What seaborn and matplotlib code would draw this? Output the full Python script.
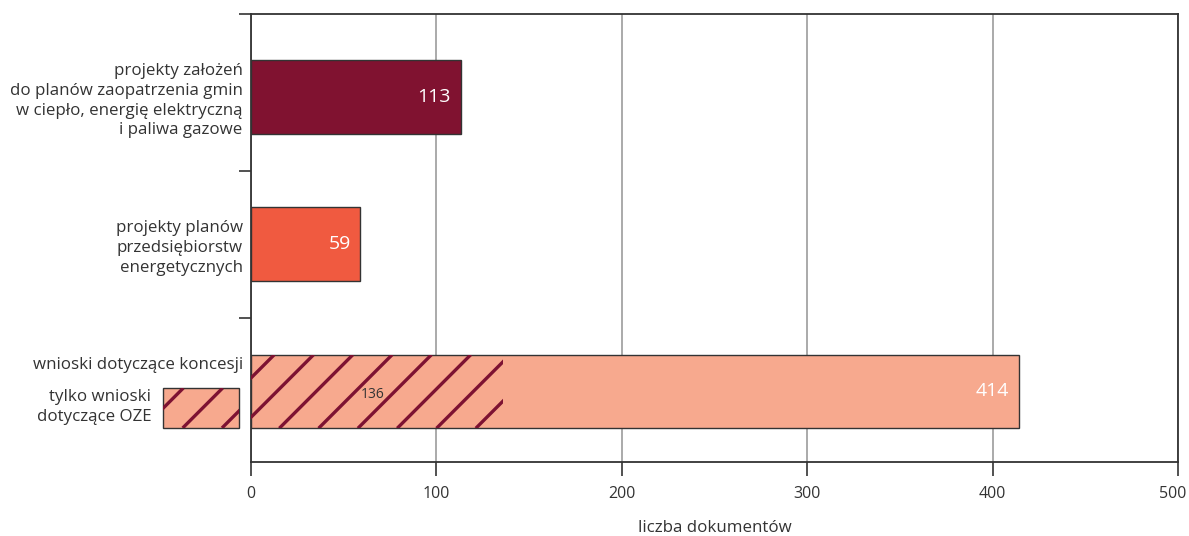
import numpy as np
import pandas as pd
import seaborn as sns
import matplotlib
matplotlib.use("Agg")
import matplotlib.pyplot as plt
from matplotlib.patches import Patch
from matplotlib.collections import LineCollection
from matplotlib.transforms import IdentityTransform, ScaledTranslation

# --- data -------------------------------------------------------------
categories = [
    "projekty założeń\ndo planów zaopatrzenia gmin\nw ciepło, energię elektryczną\ni paliwa gazowe",
    "projekty planów\nprzedsiębiorstw\nenergetycznych",
    "wnioski dotyczące koncesji",
]
counts = [113, 59, 414]
oze_count = 136
oze_label = "tylko wnioski\ndotyczące OZE"
x_ticks = [0, 100, 200, 300, 400, 500]
x_title = "liczba dokumentów"

# --- style ------------------------------------------------------------
bar_colors = ["#801230", "#f05a40", "#f7a98e"]
hatch_color = "#7d1232"
dark = "#333333"
grid_gray = "#9c9c9c"
FONT = ["Open Sans", "DejaVu Sans"]
FS = 12.2

sns.set_theme(style="white")
plt.rcParams["font.family"] = FONT
plt.rcParams["text.color"] = dark

DPI = 100
fig = plt.figure(figsize=(11.89, 5.36), dpi=DPI)
ax = fig.add_axes([251 / 1189, 1 - 462 / 536, (1178 - 251) / 1189, (462 - 14) / 536])

df = pd.DataFrame({"kategoria": categories, "liczba": counts})
sns.barplot(
    data=df, x="liczba", y="kategoria", hue="kategoria", palette=bar_colors,
    legend=False, width=0.5, orient="h", edgecolor=dark, linewidth=1.0,
    saturation=1, ax=ax, zorder=2,
)

# overlay marking the OZE subset of concession applications
oze_bar = ax.barh(2, oze_count, height=0.5, facecolor="none", edgecolor="none", zorder=3)[0]

ax.set_xlim(0, 500)
ax.set_ylim(2.479, -0.564)
ax.set_xticks(x_ticks)
ax.set_xticklabels([str(v) for v in x_ticks], fontsize=11.5, color=dark)

ax.set_yticks([0, 1, 2])
ax.set_yticklabels([categories[0], categories[1], ""], fontsize=FS, color=dark)
for t in ax.get_yticklabels():
    t.set_multialignment("right")
    t.set_linespacing(1.3)
ax.set_yticks([-0.564, 0.5, 1.5], minor=True)
ax.tick_params(axis="y", which="major", length=0, pad=6)
ax.tick_params(axis="y", which="minor", length=9, width=1.2, color=dark, direction="out", left=True)
ax.tick_params(axis="x", length=10, width=1.2, color=dark, direction="out", bottom=True, pad=7)
ax.set_xlabel(x_title, fontsize=FS, color=dark, labelpad=13)
ax.set_ylabel("")

# keep the last tick label inside the canvas
last = ax.xaxis.get_major_ticks()[-1].label1
last.set_transform(last.get_transform() + ScaledTranslation(-4 / 72, 0, fig.dpi_scale_trans))

ax.grid(axis="x", color=grid_gray, linewidth=1.2)
ax.grid(axis="y", visible=False)
ax.set_axisbelow(True)
for side in ["left", "right", "top", "bottom"]:
    ax.spines[side].set_visible(True)
    ax.spines[side].set_color(dark)
    ax.spines[side].set_linewidth(1.3)

# third category name sits near the top of its bar
ax.annotate(categories[2], xy=(0, 1.82), xytext=(-6, 0), textcoords="offset points",
            ha="right", va="center", fontsize=FS, color=dark, annotation_clip=False)

# value labels
for i, v in enumerate(counts):
    ax.annotate(str(v), xy=(v, i), xytext=(-7, 0), textcoords="offset points",
                ha="right", va="center", fontsize=14, color="white", zorder=5)
ax.annotate(str(oze_count), xy=(oze_count / 2, 2), xytext=(-3, -2), textcoords="offset points",
            ha="center", va="center", fontsize=10, color=dark, zorder=5)

# legend for the hatched subset
leg = ax.legend(
    handles=[Patch(facecolor=bar_colors[2], edgecolor=dark, linewidth=1.0)],
    labels=[oze_label], markerfirst=False, frameon=False,
    loc="center right", bbox_to_anchor=(238.5 / 1189, 1 - 408 / 536),
    bbox_transform=fig.transFigure, borderaxespad=0, borderpad=0,
    handlelength=4.45, handleheight=3.25, handletextpad=0.7, fontsize=FS,
)
for t in leg.get_texts():
    t.set_multialignment("right")
    t.set_linespacing(1.3)
    t.set_color(dark)

fig.canvas.draw()


def hatch_lines(patch, spacing=39.3, phase=28.0):
    """45-degree lines in pixel space, clipped to the given patch.

    `phase` is the distance from the patch's left edge to the first line
    crossing its bottom edge.
    """
    bb = patch.get_window_extent()
    h = bb.height
    k0 = int(np.floor((-h - phase) / spacing)) - 1
    k1 = int(np.ceil((bb.width - phase) / spacing)) + 1
    starts = bb.x0 + phase + spacing * np.arange(k0, k1 + 1)
    segs = [[(s, bb.y0), (s + h, bb.y1)] for s in starts]
    return LineCollection(segs, colors=hatch_color, linewidths=2.4,
                          transform=IdentityTransform(), zorder=4)


bar_hatch = hatch_lines(oze_bar, phase=28.3)
ax.add_collection(bar_hatch, autolim=False)
bar_hatch.set_clip_path(oze_bar.get_path(), oze_bar.get_transform())

leg_patch = leg.get_patches()[0]
leg_hatch = hatch_lines(leg_patch, phase=19.6)
fig.add_artist(leg_hatch)
leg_hatch.set_clip_path(leg_patch.get_path(), leg_patch.get_transform())

fig.savefig("out.png", dpi=DPI, facecolor="white")
